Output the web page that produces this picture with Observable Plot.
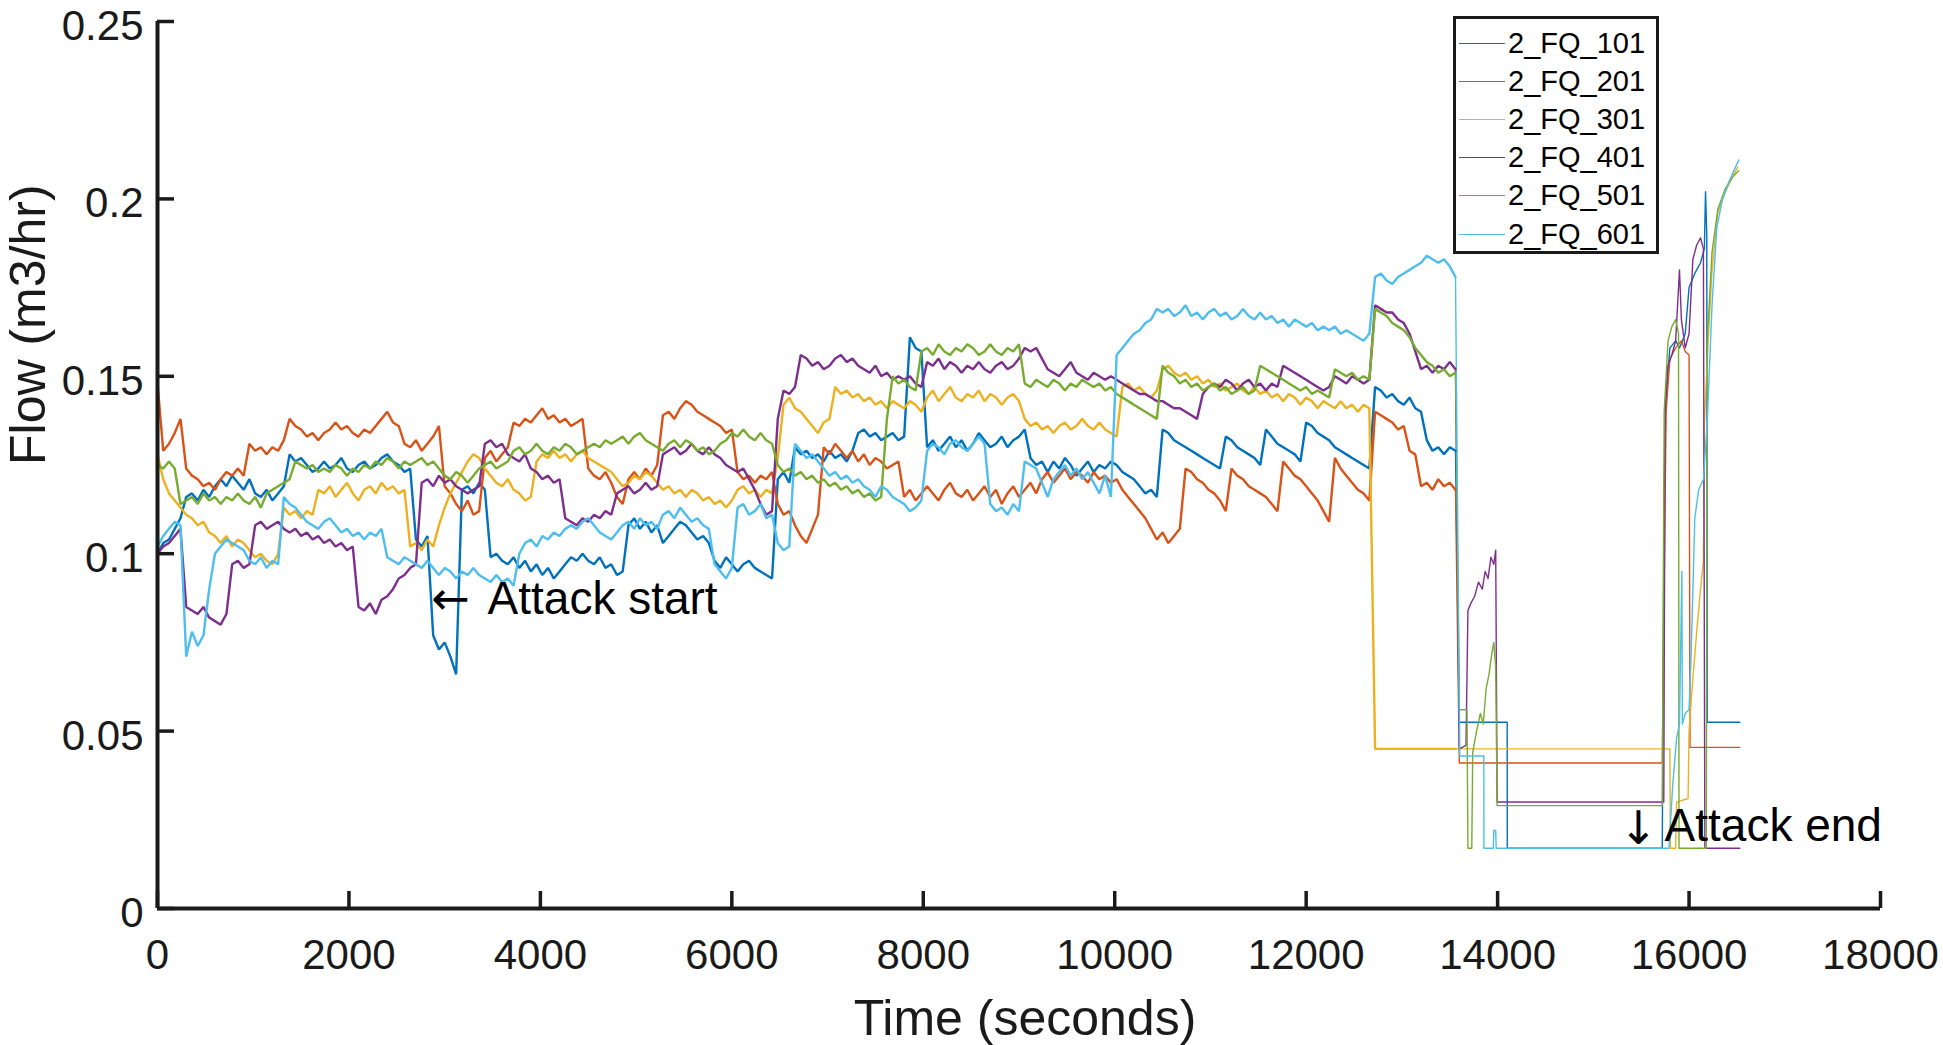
<!DOCTYPE html>
<html><head><meta charset="utf-8">
<script src="https://cdn.jsdelivr.net/npm/d3@7"></script>
<script src="https://cdn.jsdelivr.net/npm/@observablehq/plot@0.6"></script>
<style>
html,body{margin:0;padding:0;background:#fff;}
#wrap{position:relative;width:1943px;height:1045px;font-family:"Liberation Sans",Arial,sans-serif;}
#legend{position:absolute;left:1453px;top:16px;width:206px;height:238px;box-sizing:border-box;border:3px solid #1a1a1a;background:#fff;padding-top:5px;}
.row{display:flex;align-items:center;height:38.2px;}
.sw{width:46px;height:0;border-top:1.5px solid;margin-left:3px;margin-right:3px;}
.lab{font-size:29px;color:#000;line-height:1;}
</style></head>
<body><div id="wrap"><div id="chart"></div><div id="legend"></div></div>
<script>
// ---- data (flow values in thousandths of m3/hr) ----
const STEP = 60; // sampling interval in seconds for the regular arrays
const seriesNames = ["2_FQ_101","2_FQ_201","2_FQ_301","2_FQ_401","2_FQ_501","2_FQ_601"];
const seriesColors = ["#0072BD","#D95319","#EDB120","#7E2F8E","#77AC30","#4DBEEE"];
const xTicks = [0,2000,4000,6000,8000,10000,12000,14000,16000,18000];
const yTicks = [0,0.05,0.1,0.15,0.2,0.25];

const fq101 = [100,103,104,107,110,116,117,115,118,116,119,121,119,122,120,118,121,117,116,118,115,117,119,128,126,127,125,123,124,126,124,125,127,124,123,125,126,124,125,127,128,126,125,123,124,104,102,105,77,73,75,71,66,118,119,117,120,118,99,100,98,97,99,96,98,95,97,94,96,93,95,97,99,98,100,98,97,99,96,97,94,95,108,110,107,109,106,108,103,105,107,109,108,106,104,105,103,98,96,99,97,95,97,98,96,95,94,93,121,123,120,130,128,129,127,128,126,129,127,128,126,129,134,135,133,134,132,133,134,132,133,161,158,157,130,132,129,131,133,130,132,129,131,134,132,130,131,133,130,132,133,135,127,125,126,123,126,124,127,125,122,124,126,123,125,124,126,125,123,122,121,119,117,118,116,135,134,132,131,130,129,128,127,126,125,124,133,132,130,129,128,127,125,135,133,131,130,129,128,126,137,136,134,133,132,130,129,128,127,126,125,124,147,146,144,145,143,142,144,141,140,132,129,130,128,130,129];
const fq201 = [148,129,131,134,138,124,122,121,119,120,118,121,123,122,124,122,131,129,130,128,130,129,132,138,136,135,133,134,132,134,135,137,135,136,134,133,135,134,136,138,140,137,136,131,130,132,129,131,133,136,119,117,114,112,115,111,112,127,129,126,128,130,137,136,138,137,139,141,138,139,137,138,136,137,138,124,122,121,123,120,116,114,121,123,121,124,122,125,139,140,138,141,143,142,140,139,138,137,136,134,135,123,121,122,120,122,121,123,114,111,112,108,105,103,107,111,130,128,131,129,127,129,126,128,125,127,126,124,125,126,116,118,115,117,119,117,115,118,120,117,116,118,115,117,119,116,118,114,117,119,116,118,120,117,121,123,120,122,124,121,123,122,120,123,121,122,120,121,118,116,114,112,110,107,104,106,103,105,107,124,123,121,120,118,117,115,112,124,122,121,119,118,117,116,114,112,126,124,122,121,119,117,115,112,109,127,124,122,120,118,117,115,140,139,138,137,135,136,129,128,119,120,118,121,119,120,118];
const fq301 = [128,121,117,115,113,111,110,108,109,106,105,103,105,102,104,103,101,99,100,98,97,100,113,111,112,110,112,111,118,117,119,116,118,120,117,115,118,119,117,120,118,119,117,118,102,103,101,104,102,108,113,117,120,123,126,128,127,124,122,120,119,121,118,117,115,116,126,128,127,129,127,128,126,128,129,127,126,125,124,123,121,119,120,122,121,123,122,120,118,119,117,118,116,118,117,115,116,114,115,113,115,118,119,117,118,116,118,117,127,142,144,141,140,138,136,134,137,138,147,145,146,144,145,143,144,142,143,141,143,142,141,143,142,140,144,146,143,145,147,144,143,145,144,146,143,145,144,142,144,145,143,138,136,137,135,136,134,136,137,135,136,138,136,135,137,135,134,133,147,148,146,147,145,144,146,152,153,151,150,151,149,150,148,149,147,148,146,147,148,146,145,147,145,146,144,145,143,145,144,142,144,143,141,143,142,141,143,141,142,140,142,141,45,45,45,45,45,45,45,45,45,45,45,45,45,45,45];
const fq401 = [100,102,103,105,107,85,84,83,85,82,81,80,83,97,98,96,97,108,109,107,108,109,107,106,107,105,106,104,105,103,104,102,103,101,102,85,84,86,83,87,88,90,93,94,96,97,120,121,119,122,120,121,119,118,117,118,119,131,132,130,131,128,127,126,128,124,123,121,122,120,121,110,109,108,110,109,111,110,112,111,117,118,119,117,118,120,118,119,128,129,130,128,129,131,129,128,130,128,127,125,124,123,124,121,118,114,111,112,138,146,145,147,156,155,153,154,152,153,155,156,154,155,153,152,151,153,150,151,149,150,149,150,148,147,154,153,155,152,154,153,151,153,152,154,152,151,153,154,152,153,155,158,157,158,155,152,151,150,152,154,151,150,149,151,150,149,150,149,148,147,146,145,145,144,143,143,142,141,141,140,139,138,145,147,148,147,149,148,146,148,149,147,148,146,148,147,153,152,151,150,149,148,147,146,147,150,149,148,150,149,148,149,170,169,168,168,166,165,162,157,152,153,151,153,152,154,152];
const fq501 = [125,124,126,124,114,115,116,114,117,115,116,114,116,115,117,115,114,116,113,117,118,119,120,121,126,125,124,125,123,124,123,125,124,122,124,123,125,124,126,125,127,126,124,126,125,126,127,125,126,124,122,121,123,122,120,122,124,125,126,124,125,126,129,130,128,129,131,129,128,130,129,131,130,128,129,130,131,130,132,131,132,133,131,133,134,132,131,130,129,131,132,130,132,131,129,130,128,129,131,132,134,133,135,133,132,134,132,131,125,123,124,122,123,121,122,120,121,119,120,118,119,117,118,116,117,115,116,138,150,148,149,147,146,157,158,156,159,157,156,158,157,159,158,156,157,159,157,156,158,157,159,148,147,149,148,147,149,148,146,148,147,149,148,147,148,146,147,145,144,143,142,141,140,139,138,153,151,150,148,149,147,148,146,147,148,146,147,145,146,147,145,146,153,152,151,150,149,148,147,146,147,145,146,145,144,152,151,150,151,149,150,149,169,168,167,165,164,163,161,158,156,154,153,151,152,150,151];
const fq601 = [102,105,107,109,108,71,78,74,77,90,100,102,104,103,102,101,98,97,99,96,98,97,116,114,113,111,109,108,107,109,110,108,106,107,105,106,104,106,105,107,99,98,97,99,98,97,96,98,96,94,96,95,93,95,94,96,94,93,92,94,92,93,91,100,103,104,102,105,104,106,105,107,108,107,109,110,108,106,105,104,106,108,109,107,110,108,109,107,111,112,110,113,111,109,110,108,107,97,95,93,96,113,114,111,112,114,110,111,103,101,102,131,129,127,128,126,124,122,123,121,122,120,121,119,118,116,119,118,116,115,114,112,113,115,129,131,130,128,131,132,130,129,131,133,131,114,112,113,111,114,112,126,125,124,120,116,121,123,125,122,124,121,123,120,117,122,116,156,158,160,162,163,165,166,169,168,169,167,168,170,167,168,166,168,169,167,168,166,167,169,167,166,168,166,167,165,166,164,166,165,164,165,163,164,163,164,162,163,162,161,160,162,178,179,177,176,178,179,180,181,182,184,183,182,183,181,178];

// attack period: [time (s), flow (thousandths)]
const tail101 = [[13600,52.5],[14100,52.5],[14101,17],[15720,17],[15740,120],[15760,145],[15800,158],[15860,160],[15900,158],[15960,162],[16000,175],[16060,179],[16120,182],[16160,186],[16172,202],[16185,190],[16190,52.5],[16530,52.5]];
const tail201 = [[13600,41],[15720,41],[15760,140],[15800,155],[15860,158],[15920,160],[15960,157],[16000,156],[16010,45.4],[16530,45.4]];
const tail301 = [[13600,45],[15800,45],[15805,17],[15860,17],[15870,30],[15990,31],[16000,50],[16040,65],[16080,78],[16120,90],[16150,98],[16160,137],[16200,160],[16240,180],[16300,196],[16380,202],[16450,206],[16510,209]];
const tail401 = [[13600,45],[13670,46],[13690,84],[13720,86],[13760,88],[13800,92],[13840,90],[13870,95],[13900,93],[13930,99],[13960,97],[13980,101],[13995,30],[15736,30],[15750,140],[15780,153],[15820,156],[15860,160],[15900,180],[15920,166],[15960,158],[16000,162],[16040,183],[16080,187],[16120,189],[16150,186],[16165,17],[16530,17]];
const tail501 = [[13600,56],[13680,56],[13690,17],[13730,17],[13740,44],[13780,50],[13820,55],[13850,52],[13880,62],[13910,66],[13940,72],[13960,75],[13980,68],[13995,29],[15720,29],[15740,140],[15780,160],[15820,164],[15860,166],[15890,162],[15895,17],[16180,17],[16190,160],[16240,185],[16300,197],[16380,203],[16450,206],[16520,208]];
const tail601 = [[13605,43],[13856,43],[13857,17],[13955,17],[13960,22],[13980,22],[13985,17],[15790,17],[15830,35],[15870,48],[15900,52],[15925,95],[15930,52],[15960,55],[16000,56],[16020,70],[16060,110],[16100,118],[16150,121],[16190,137],[16240,170],[16290,192],[16350,200],[16420,205],[16520,211]];

// annotations: arrow glyph and label, placed in data coordinates
const arrowMarks = [{t: 3061, v: 0.0872, glyph: "\u2190"}, {t: 15472, v: 0.0224, glyph: "\u2193"}];
const noteLabels = [{t: 3448, v: 0.0872, label: "Attack start"}, {t: 15744, v: 0.0233, label: "Attack end"}];

// ---- build tables ----
const regular = [fq101, fq201, fq301, fq401, fq501, fq601];
const tails = [tail101, tail201, tail301, tail401, tail501, tail601];
const rowsMain = [], rowsTail = [];
seriesNames.forEach((name, k) => {
  const arr = regular[k];
  arr.forEach((v, i) => rowsMain.push({t: i * STEP, v: v / 1000, s: name}));
  rowsTail.push({t: (arr.length - 1) * STEP, v: arr[arr.length - 1] / 1000, s: name});
  tails[k].forEach(([t, v]) => rowsTail.push({t, v: v / 1000, s: name}));
});

const ink = "#1a1a1a";
const chart = Plot.plot({
  width: 1943, height: 1045,
  marginLeft: 157, marginRight: 63, marginTop: 21, marginBottom: 137,
  style: {fontFamily: "'Liberation Sans', Arial, sans-serif", background: "#fff", color: ink},
  x: {domain: [0, 18000]},
  y: {domain: [0, 0.25]},
  color: {domain: seriesNames, range: seriesColors},
  marks: [
    Plot.line(rowsTail, {x: "t", y: "v", z: "s", stroke: "s", strokeWidth: 1.4}),
    Plot.line(rowsMain, {x: "t", y: "v", z: "s", stroke: "s", strokeWidth: 2.4, strokeLinejoin: "miter"}),
    Plot.ruleX([0], {stroke: ink, strokeWidth: 4}),
    Plot.ruleY([0], {stroke: ink, strokeWidth: 4}),
    Plot.axisX(xTicks, {tickSize: 17, dy: -17, fill: "none", stroke: ink, strokeWidth: 3.5, label: null}),
    Plot.axisX(xTicks, {tickSize: 0, tickPadding: 31, tickFormat: d => String(d), fontSize: 42, fill: ink, label: null}),
    Plot.axisY(yTicks, {tickSize: 17, dx: 17, fill: "none", stroke: ink, strokeWidth: 3.5, label: null}),
    Plot.axisY(yTicks, {tickSize: 0, tickPadding: 14, dy: 5, tickFormat: d => String(d), fontSize: 42, fill: ink, label: null}),
    Plot.text(["Time (seconds)"], {frameAnchor: "bottom", dy: 110, dx: 6, text: d => d, fontSize: 50, lineAnchor: "middle", fill: ink}),
    Plot.text(["Flow (m3/hr)"], {frameAnchor: "left", dx: -129, rotate: -90, text: d => d, fontSize: 50, lineAnchor: "middle", fill: ink}),
    Plot.text(arrowMarks, {x: "t", y: "v", text: "glyph", textAnchor: "middle", lineAnchor: "middle", fontSize: 46, fontFamily: "DejaVu Sans", fill: "#000"}),
    Plot.text(noteLabels, {x: "t", y: "v", text: "label", textAnchor: "start", lineAnchor: "middle", fontSize: 46, fill: "#000"})
  ]
});
document.getElementById("chart").appendChild(chart);

// ---- legend (inside the axes, top right) ----
const legend = document.getElementById("legend");
seriesNames.forEach((name, k) => {
  const row = document.createElement("div");
  row.className = "row";
  const sw = document.createElement("div");
  sw.className = "sw";
  sw.style.borderTopColor = seriesColors[k];
  const lab = document.createElement("span");
  lab.className = "lab";
  lab.textContent = name;
  row.appendChild(sw); row.appendChild(lab);
  legend.appendChild(row);
});
</script>
</body></html>
